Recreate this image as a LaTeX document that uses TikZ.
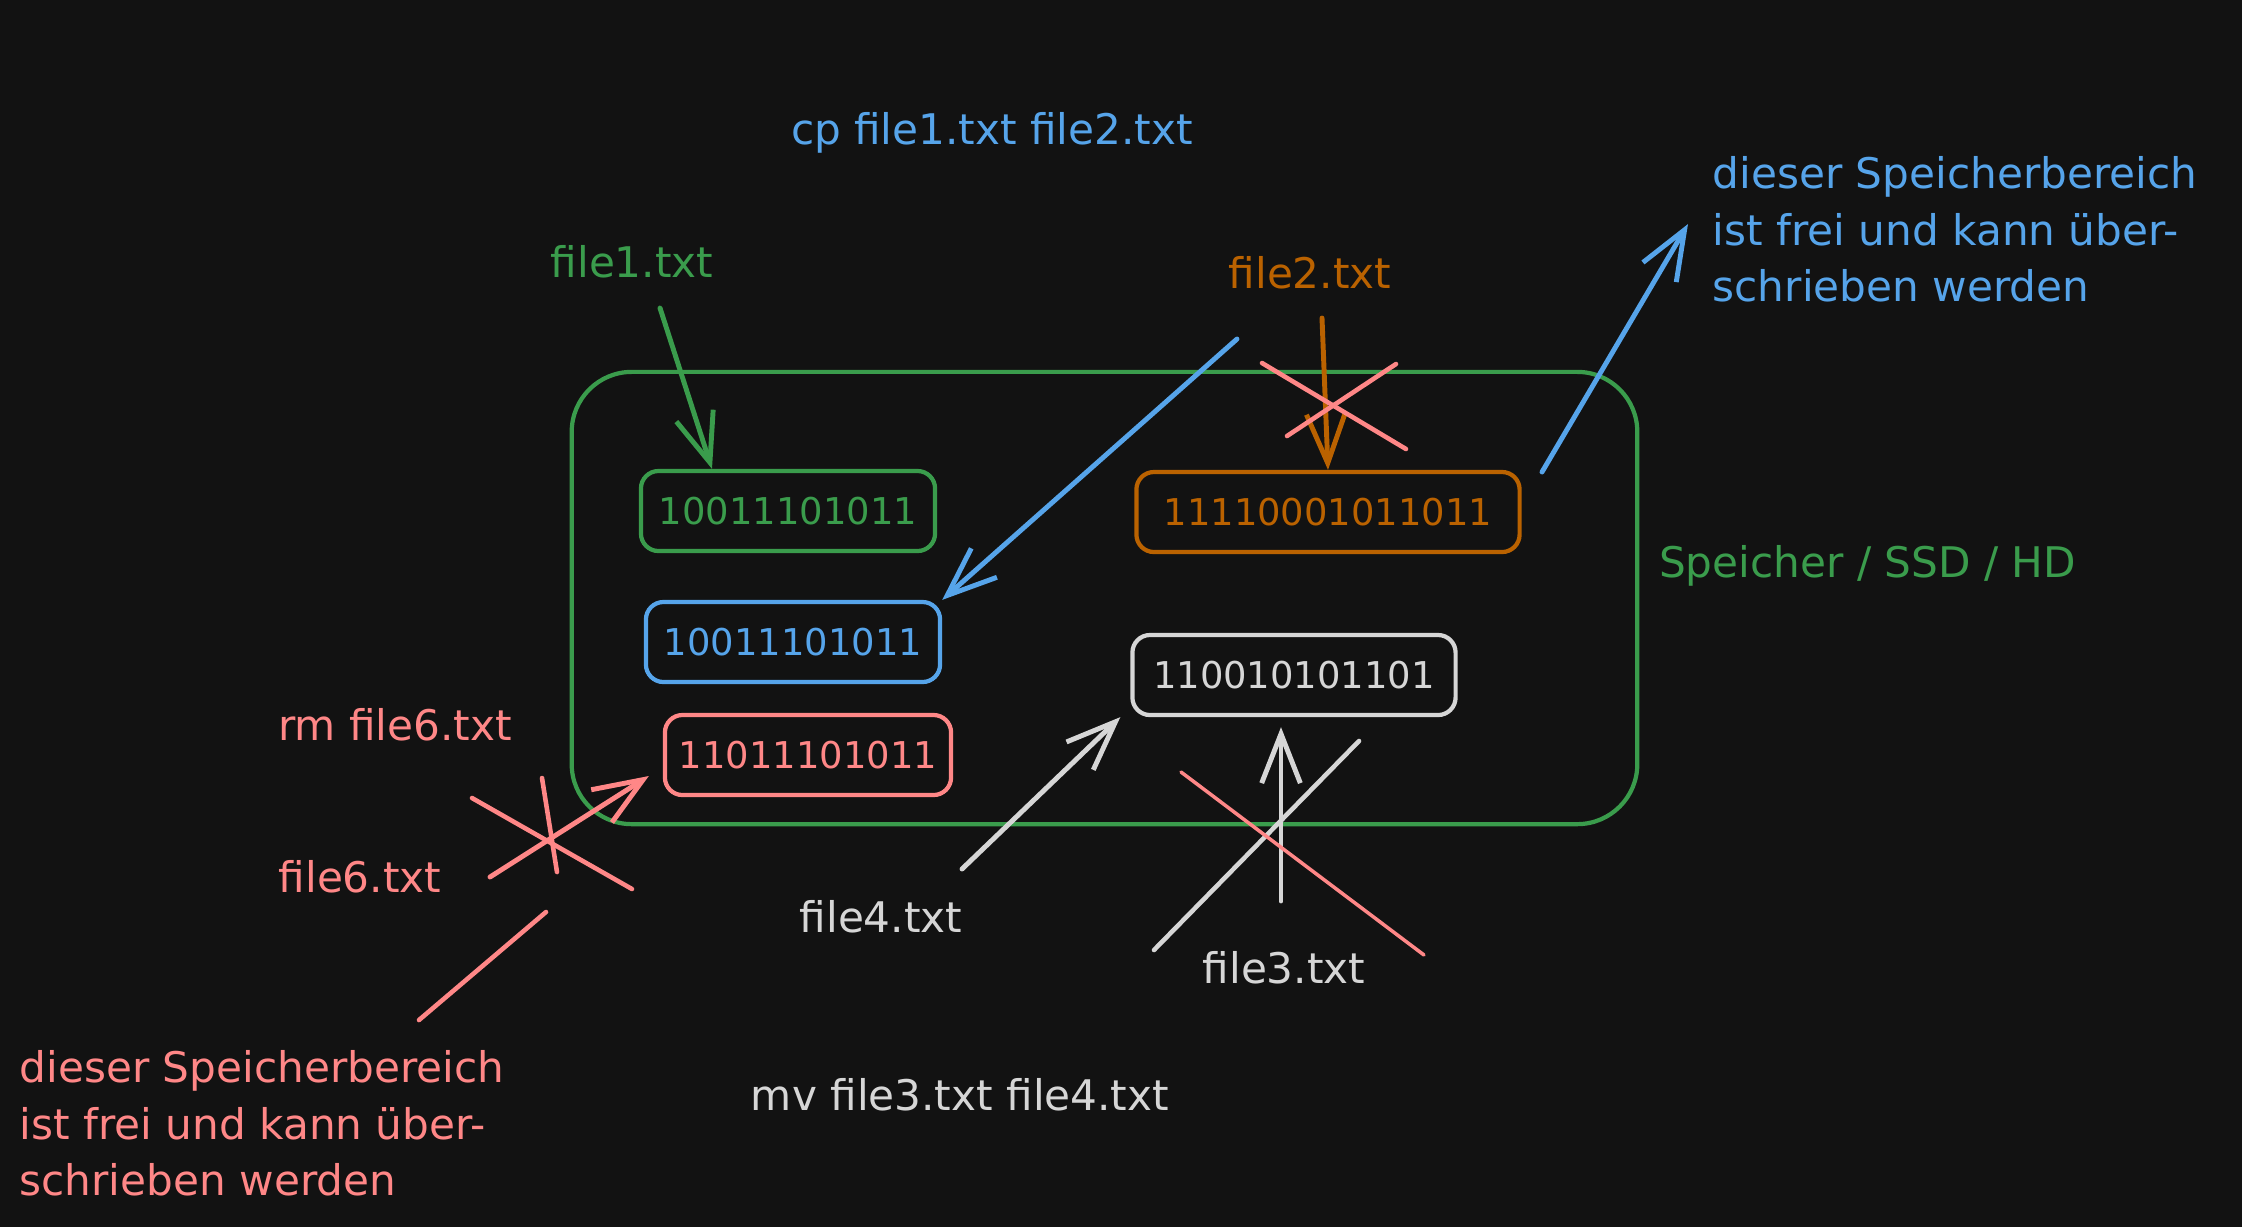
\documentclass[tikz,border=0pt]{standalone}
\usepackage{fontspec}
\setmainfont{DejaVu Sans}
\usepackage{xcolor}
\usepackage{tikz}
\usetikzlibrary{arrows.meta, positioning}

\definecolor{bgdark}{HTML}{121212}
\definecolor{sgreen}{RGB}{58,156,76}
\definecolor{sblue}{RGB}{86,164,234}
\definecolor{sorange}{RGB}{186,98,0}
\definecolor{sred}{RGB}{255,135,135}
\definecolor{sgray}{RGB}{214,214,214}

\begin{document}
\begin{tikzpicture}[x=0.01cm,y=-0.01cm,>={Straight Barb[length=14pt,width=11pt]},line cap=round]
                \tikzset{lbl/.style={font=\fontsize{12}{16}\selectfont, inner sep=0pt},
                         note/.style={lbl, align=left, anchor=north west},
                         bits/.style={draw, rounded corners=5pt, line width=1.2pt, minimum height=0.8cm, font=\fontsize{10.5}{12}\selectfont},
                         arr/.style={->, line width=1.4pt},
                         strike/.style={line width=1.3pt}}

                \useasboundingbox (0,0) rectangle (2242,1226);
                \fill[bgdark] (-10,-10) rectangle (2252,1236);

                \node[draw=sgreen, line width=1.2pt, rounded corners=0.6cm, minimum width=10.65cm, minimum height=4.52cm] (ssd) at (1104.5,598) {};
                \node[lbl, sgreen, anchor=west] (hd) [right=0.19cm of ssd.east, yshift=0.32cm] {Speicher / SSD / HD};

                \node[bits, sgreen, minimum width=2.94cm] (b1) at (788,511) {10011101011};
                \node[bits, sblue, minimum width=2.94cm] (b2) at (793,642) {10011101011};
                \node[bits, sred, minimum width=2.86cm] (b6) at (808,755) {11011101011};
                \node[bits, sorange, minimum width=3.83cm] (b2old) at (1328,512) {11110001011011};
                \node[bits, sgray, minimum width=3.23cm] (b3) at (1294,675) {110010101101};

                \node[lbl, sblue] (cp) at (992,133) {cp file1.txt file2.txt};
                \node[lbl, sgreen] (f1) at (632,262) {file1.txt};
                \node[lbl, sorange] (f2) at (1310,273) {file2.txt};
                \node[lbl, sred] (rm) at (395,725) {rm file6.txt};
                \node[lbl, sred] (f6) at (360,877) {file6.txt};
                \node[lbl, sgray] (f4) at (881,917) {file4.txt};
                \node[lbl, sgray] (f3) at (1284,968) {file3.txt};
                \node[lbl, sgray] (mv) at (960,1095) {mv file3.txt file4.txt};
                \node[note, sblue] (free1) at (1712,156) {dieser Speicherbereich\\ist frei und kann über-\\schrieben werden};
                \node[note, sred] (free6) at (19,1050) {dieser Speicherbereich\\ist frei und kann über-\\schrieben werden};

                \coordinate (c1) at (660,308);
                \coordinate (c2) at (1237,339);
                \coordinate (c2old) at (1322,318);
                \coordinate (cfree) at (1542,472);
                \coordinate (c6) at (490,877);
                \coordinate (c6a) at (546,912);
                \coordinate (c6b) at (419,1020);
                \coordinate (c4) at (962,869);
                \coordinate (c3) at (1281,901);

                \draw[arr, sgreen] (c1) -- (b1.151);
                \draw[arr, sblue] (c2) -- (b2.north east);
                \draw[arr, sorange] (c2old) -- (b2old.north);
                \draw[arr, sblue] (cfree) -- ([xshift=-0.24cm, yshift=-0.68cm]free1.north west);
                \draw[arr, sred] (c6) -- ([xshift=-0.14cm, yshift=-0.21cm]b6.west);
                \draw[sred, strike] (c6a) -- (c6b);
                \draw[arr, sgray] (c4) -- ([xshift=-0.1cm]b3.south west);
                \draw[arr, sgray] (c3) -- ([yshift=-0.1cm]c3 |- b3.south);

                \draw[sred, strike] (1262,363) -- (1406,449);
                \draw[sred, strike] (1287,436) -- (1396,364);
                \draw[sred, strike] (472,798) -- (632,889);
                \draw[sred, strike] (542,778) -- (557,872);
                \draw[sgray, strike] (1359,741) -- (1154,950);
                \draw[sred, line width=1pt] (1181,772) -- (1424,955);
            \end{tikzpicture}
\end{document}
